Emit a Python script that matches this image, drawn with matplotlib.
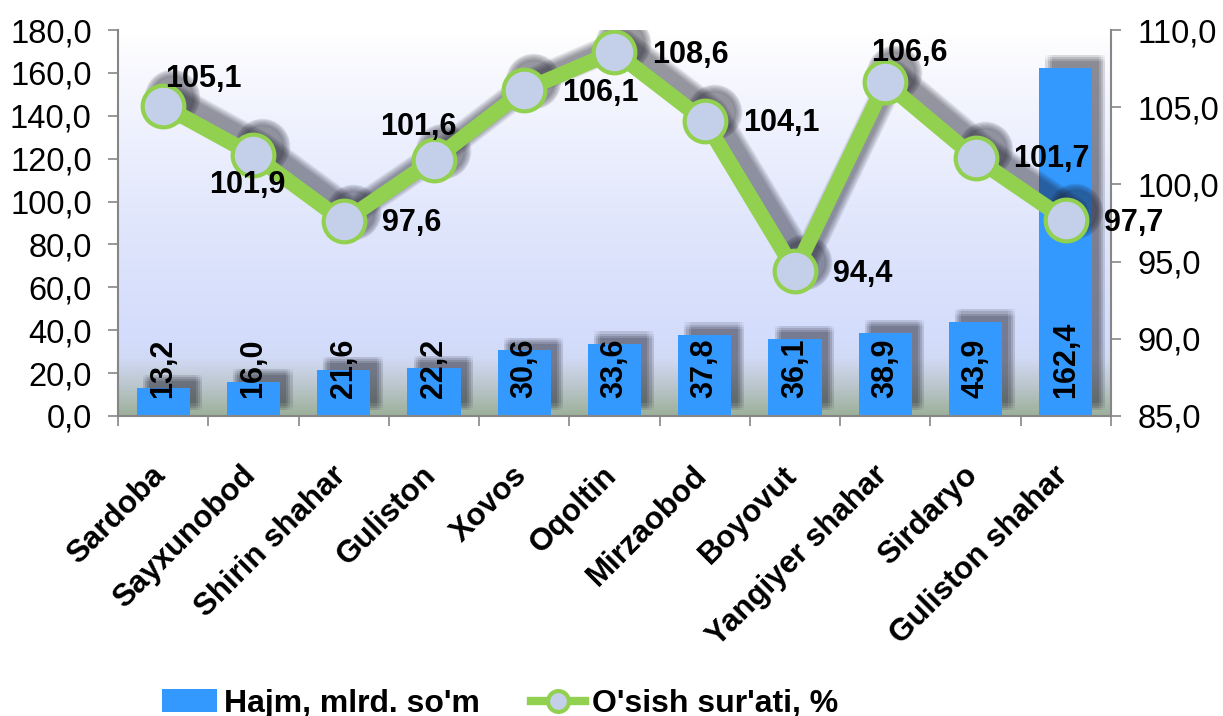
import numpy as np
import matplotlib
matplotlib.use("Agg")
import matplotlib.pyplot as plt
import matplotlib.patheffects as pe
from matplotlib.colors import to_rgb
from matplotlib.lines import Line2D
from matplotlib.patches import Patch
from matplotlib.ticker import FuncFormatter, MultipleLocator
from matplotlib.transforms import offset_copy

plt.rcParams['font.family'] = ['Liberation Sans', 'DejaVu Sans']

# data
districts = ['Sardoba', 'Sayxunobod', 'Shirin shahar', 'Guliston', 'Xovos',
             'Oqoltin', 'Mirzaobod', 'Boyovut', 'Yangiyer shahar', 'Sirdaryo',
             'Guliston shahar']
volume = [13.2, 16.0, 21.6, 22.2, 30.6, 33.6, 37.8, 36.1, 38.9, 43.9, 162.4]
growth = [105.1, 101.9, 97.6, 101.6, 106.1, 108.6, 104.1, 94.4, 106.6, 101.7, 97.7]
series_names = ['Hajm, mlrd. so\'m', 'O\'sish sur\'ati, %']

# where each growth label sits relative to its point (pixels, alignment)
growth_label_pos = [(40, 27, 'center'), (-6, -30, 'center'), (38, -2, 'left'),
                    (-16, 33, 'center'), (38, -3, 'left'), (38, -3, 'left'),
                    (38, -2, 'left'), (38, -3, 'left'), (24, 29, 'center'),
                    (38, -1, 'left'), (38, -3, 'left')]

bar_color = '#3399ff'
line_color = '#92d050'
marker_face = '#c4cfea'
axis_color = '#868686'
shadow = '#1c1c2a'


def comma(v, _):
    return f'{v:.1f}'.replace('.', ',')


fig = plt.figure(figsize=(12.23, 7.16), dpi=100)
ax = fig.add_axes([0.0965, 0.419, 0.8119, 0.5391])
x = np.arange(len(districts))

# plot area gradient background
stops = [(0.0, '#ffffff'), (0.15, '#f5f6fe'), (0.5, '#e0e6fc'), (0.8, '#d3dcfb'),
         (0.85, '#d1daf5'), (0.92, '#bcc7cf'), (1.0, '#9cb099')]
t = np.linspace(0, 1, 300)
grad = np.zeros((300, 1, 3))
for c in range(3):
    grad[:, 0, c] = np.interp(t, [s[0] for s in stops], [to_rgb(s[1])[c] for s in stops])
ax.imshow(grad, extent=[-0.5, 10.5, 0, 180], aspect='auto', zorder=0)

# bars with a soft shadow to the upper right
bar_fx = [pe.SimplePatchShadow(offset=(dx, dy), shadow_rgbFace=shadow, alpha=0.04)
          for dx in (4.5, 6, 7.5, 9) for dy in (4.5, 6, 7.5, 9)] + [pe.Normal()]
bars = ax.bar(x, volume, width=0.59, color=bar_color, zorder=2)
for b in bars:
    b.set_path_effects(bar_fx)

for xi, v in zip(x, volume):
    ax.annotate(comma(v, None), xy=(xi, 0), xytext=(0, 18), textcoords='offset pixels',
                rotation=90, ha='center', va='bottom', fontsize=22, fontweight='bold',
                zorder=3)

ax.set_xlim(-0.5, 10.5)
ax.set_ylim(0, 180)
ax.yaxis.set_major_locator(MultipleLocator(20))
ax.yaxis.set_major_formatter(FuncFormatter(comma))
ax.set_xticks(np.arange(-0.5, 11, 1))
ax.set_xticklabels([])
# labels sit a little left of the category centre, as in the original
ax.set_xticks(x - 0.14, minor=True)
ax.set_xticklabels(districts, minor=True, rotation=45, ha='right', va='top',
                   rotation_mode='anchor', fontsize=22.5, fontweight='bold')
ax.tick_params(axis='x', which='major', direction='out', length=7, width=1.2, color=axis_color)
ax.tick_params(axis='x', which='minor', length=0, pad=32)
ax.tick_params(axis='y', direction='out', length=7, width=1.2, color=axis_color,
               pad=12, labelsize=23.5)
for s in ('top', 'right'):
    ax.spines[s].set_visible(False)
for s in ('left', 'bottom'):
    ax.spines[s].set_color(axis_color)
    ax.spines[s].set_linewidth(1.5)

# growth line on the right axis
ax2 = ax.twinx()
ax2.patch.set_visible(False)
ax2.set_ylim(85, 110)
ax2.yaxis.set_major_locator(MultipleLocator(5))
ax2.yaxis.set_major_formatter(FuncFormatter(comma))
ax2.tick_params(axis='y', direction='out', length=7, width=1.2, color=axis_color,
                pad=12, labelsize=23.5)
for s in ('top', 'left', 'bottom'):
    ax2.spines[s].set_visible(False)
ax2.spines['right'].set_color(axis_color)
ax2.spines['right'].set_linewidth(1.5)

shadow_tr = offset_copy(ax2.transData, fig=fig, x=9, y=9, units='dots')
for k in range(6):
    ax2.plot(x, growth, color=shadow, lw=11 + 1.8 * k, marker='o', ms=30 + 1.8 * k,
             mfc=shadow, mec=shadow, alpha=0.09, transform=shadow_tr,
             solid_joinstyle='round', solid_capstyle='round', zorder=3)
ax2.plot(x, growth, color=line_color, lw=11, marker='o', ms=30, mfc=marker_face,
         mec=line_color, mew=3, solid_joinstyle='round', zorder=4)

for xi, g, (dx, dy, ha) in zip(x, growth, growth_label_pos):
    ax2.annotate(comma(g, None), xy=(xi, g), xytext=(dx, dy), textcoords='offset pixels',
                 ha=ha, va='center', fontsize=22, fontweight='bold', zorder=5,
                 annotation_clip=False)

handles = [Patch(facecolor=bar_color),
           Line2D([], [], color=line_color, lw=6, marker='o', ms=15, mfc=marker_face,
                  mec=line_color, mew=3)]
fig.legend(handles, series_names, loc='center', bbox_to_anchor=(0.409, 0.017),
           ncol=2, frameon=False, prop={'weight': 'bold', 'size': 23},
           handlelength=1.7, handletextpad=0.22, columnspacing=1.6, borderpad=0)

fig.savefig('out.png', dpi=100)
